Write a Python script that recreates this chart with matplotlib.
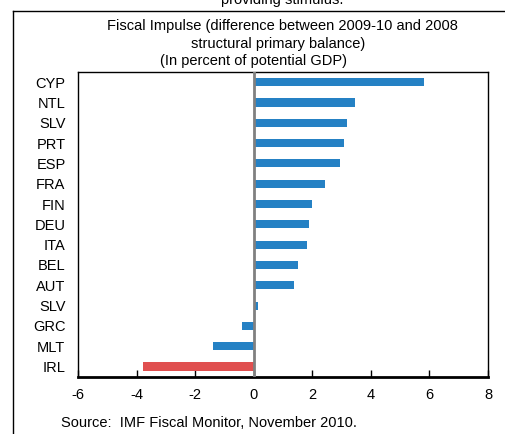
import numpy as np
import matplotlib.pyplot as plt
from matplotlib.lines import Line2D

plt.rcParams['font.family'] = ['Liberation Sans', 'DejaVu Sans']

countries = ["CYP", "NTL", "SLV", "PRT", "ESP", "FRA", "FIN", "DEU",
             "ITA", "BEL", "AUT", "SLV", "GRC", "MLT", "IRL"]
impulse = [5.81, 3.46, 3.17, 3.08, 2.94, 2.42, 1.99, 1.90,
           1.81, 1.52, 1.38, 0.14, -0.41, -1.40, -3.77]
xticks = [-6, -4, -2, 0, 2, 4, 6, 8]

blue = "#2581C4"
red = "#E04F4F"
colors = [red if c == "IRL" else blue for c in countries]
fs = 10.5

fig = plt.figure(figsize=(5.05, 4.34), dpi=100)
ax = fig.add_axes([78 / 505, 1 - 376.7 / 434, 410 / 505, 304.7 / 434])

ypos = np.arange(len(countries))[::-1]
ax.barh(ypos, impulse, height=0.4, color=colors, zorder=2)
ax.axvline(0, color="#808080", lw=2, zorder=3)

ax.set_xlim(-6, 8)
ax.set_ylim(-0.5, len(countries) - 0.5)
ax.set_xticks(xticks)
ax.set_xticklabels([str(t) for t in xticks], fontsize=fs)
ax.set_yticks(ypos)
ax.set_yticklabels(countries, fontsize=fs)
ax.tick_params(axis="x", direction="in", length=5, width=1, pad=8)
ax.tick_params(axis="y", length=0, pad=9)
for s in ax.spines.values():
    s.set_linewidth(1)
ax.spines["bottom"].set_linewidth(2)

# titles
fig.text(282 / 505, 1 - 26 / 434, "Fiscal Impulse (difference between 2009-10 and 2008",
         ha="center", va="center", fontsize=fs)
fig.text(278 / 505, 1 - 44 / 434, "structural primary balance)",
         ha="center", va="center", fontsize=fs)
fig.text(253 / 505, 1 - 61 / 434, "(In percent of potential GDP)",
         ha="center", va="center", fontsize=fs)
fig.text(282 / 505, 1 - 4 / 434, "providing stimulus.",
         ha="center", va="baseline", fontsize=fs)
fig.text(61 / 505, 1 - 423 / 434, "Source:  IMF Fiscal Monitor, November 2010.",
         ha="left", va="center", fontsize=fs)

# outer frame
fig.add_artist(Line2D([13 / 505, 13 / 505], [0, 1 - 11 / 434], color="black", lw=1))
fig.add_artist(Line2D([13 / 505, 1], [1 - 11 / 434, 1 - 11 / 434], color="black", lw=1))

fig.savefig("out.png", dpi=100)
